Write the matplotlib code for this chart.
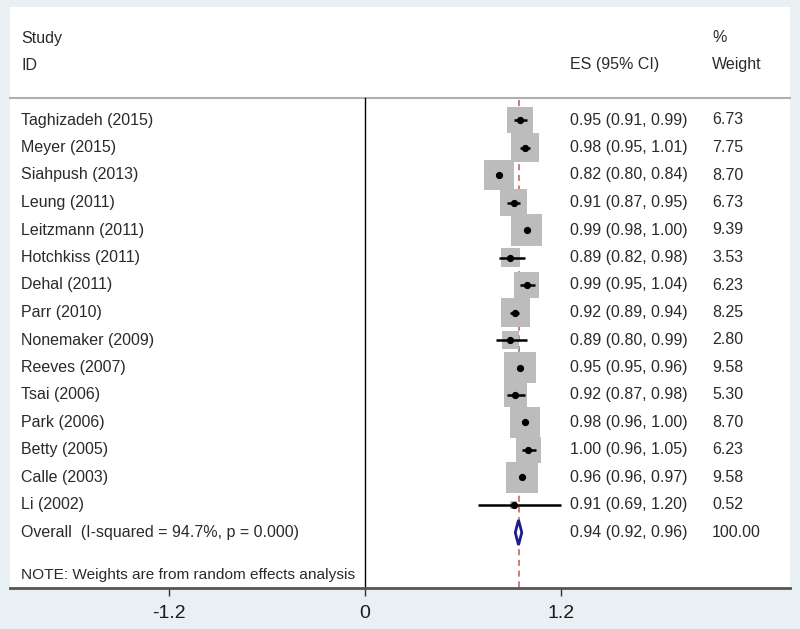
import matplotlib
matplotlib.use("Agg")
import matplotlib.pyplot as plt
from matplotlib.patches import Rectangle, Polygon
import numpy as np

plt.rcParams['font.family'] = ['Liberation Sans', 'DejaVu Sans']

studies = ["Taghizadeh (2015)", "Meyer (2015)", "Siahpush (2013)", "Leung (2011)",
           "Leitzmann (2011)", "Hotchkiss (2011)", "Dehal (2011)", "Parr (2010)",
           "Nonemaker (2009)", "Reeves (2007)", "Tsai (2006)", "Park (2006)",
           "Betty (2005)", "Calle (2003)", "Li (2002)"]
es = [0.95, 0.98, 0.82, 0.91, 0.99, 0.89, 0.99, 0.92, 0.89, 0.95, 0.92, 0.98, 1.00, 0.96, 0.91]
lo = [0.91, 0.95, 0.80, 0.87, 0.98, 0.82, 0.95, 0.89, 0.80, 0.95, 0.87, 0.96, 0.96, 0.96, 0.69]
hi = [0.99, 1.01, 0.84, 0.95, 1.00, 0.98, 1.04, 0.94, 0.99, 0.96, 0.98, 1.00, 1.05, 0.97, 1.20]
weights = [6.73, 7.75, 8.70, 6.73, 9.39, 3.53, 6.23, 8.25, 2.80, 9.58, 5.30, 8.70, 6.23, 9.58, 0.52]
overall_label = "Overall  (I-squared = 94.7%, p = 0.000)"
overall_es, overall_lo, overall_hi, overall_w = 0.94, 0.92, 0.96, 100.00
note = "NOTE: Weights are from random effects analysis"
xticks = [-1.2, 0, 1.2]
xticklabels = ["-1.2", "0", "1.2"]

W, H = 800, 629
fig = plt.figure(figsize=(W / 100, H / 100), dpi=100)
fig.patch.set_facecolor('#e9f0f3')

# axes covering the white panel (pixel coords)
left_px, right_px, top_px, bot_px = 10, 790, 7, 588
ax = fig.add_axes([left_px / W, 1 - bot_px / H, (right_px - left_px) / W, (bot_px - top_px) / H])
ax.set_facecolor('white')

x0_px, px_per_unit = 365.0, 163.33
row0_px, row_step = 120.0, 27.5
def xd(px):
    return (px - x0_px) / px_per_unit
def yd(py):
    return (py - row0_px) / row_step

ax.set_xlim(xd(left_px), xd(right_px))
ax.set_ylim(yd(bot_px), yd(top_px))

for s in ['top', 'right', 'left']:
    ax.spines[s].set_visible(False)
ax.spines['bottom'].set_color('#555555')
ax.spines['bottom'].set_linewidth(2)
ax.set_yticks([])
ax.set_xticks(xticks)
ax.set_xticklabels(xticklabels, fontsize=14, color='#1a1a1a')
ax.tick_params(axis='x', direction='out', length=6, width=1, color='#333333', pad=6)

txt_col = '#2a2a2a'
fs = 11.5

# header
ax.text(xd(21), yd(38), "Study", fontsize=fs, va='center', ha='left', color=txt_col)
ax.text(xd(21), yd(65), "ID", fontsize=fs, va='center', ha='left', color=txt_col)
ax.text(xd(712), yd(37), "%", fontsize=fs, va='center', ha='left', color=txt_col)
ax.text(xd(570), yd(65), "ES (95% CI)", fontsize=fs, va='center', ha='left', color=txt_col)
ax.text(xd(712), yd(65), "Weight", fontsize=fs, va='center', ha='left', color=txt_col)
ax.plot([xd(left_px), xd(right_px)], [yd(98), yd(98)], color='#b0b0b0', lw=1.5, clip_on=False)

# reference lines
ax.plot([0, 0], [yd(98), yd(bot_px)], color='black', lw=1.0)
ax.plot([overall_es, overall_es], [yd(100), yd(bot_px)], color='#c05858', lw=1.1,
        linestyle=(0, (4, 3)))

n = len(studies)
rows = np.arange(n)
for i in range(n):
    side_px = 10.2 * np.sqrt(weights[i])
    wd = side_px / px_per_unit
    hd = side_px / row_step
    ax.add_patch(Rectangle((es[i] - wd / 2, rows[i] - hd / 2), wd, hd,
                           facecolor='#bcbcbc', edgecolor='none', zorder=2))
    ax.plot([lo[i], hi[i]], [rows[i], rows[i]], color='black', lw=1.8, zorder=3,
            solid_capstyle='butt')
    ax.plot(es[i], rows[i], 'o', color='black', ms=4.2, zorder=4)
    ax.text(xd(21), rows[i], studies[i], fontsize=fs, va='center', ha='left', color=txt_col)
    ax.text(xd(570), rows[i], f"{es[i]:.2f} ({lo[i]:.2f}, {hi[i]:.2f})", fontsize=fs,
            va='center', ha='left', color=txt_col)
    ax.text(xd(712), rows[i], f"{weights[i]:.2f}", fontsize=fs, va='center', ha='left',
            color=txt_col)

# overall
yo = n
dh = 12.5 / row_step
ax.add_patch(Polygon([[overall_lo, yo], [overall_es, yo - dh], [overall_hi, yo], [overall_es, yo + dh]],
                     closed=True, facecolor='white', edgecolor='#1c1c8a', lw=2.0, zorder=4))
ax.text(xd(21), yo, overall_label, fontsize=fs, va='center', ha='left', color=txt_col)
ax.text(xd(570), yo, f"{overall_es:.2f} ({overall_lo:.2f}, {overall_hi:.2f})", fontsize=fs,
        va='center', ha='left', color=txt_col)
ax.text(xd(712), yo, f"{overall_w:.2f}", fontsize=fs, va='center', ha='left', color=txt_col)

ax.text(xd(21), yd(575), note, fontsize=11.1, va='center', ha='left', color=txt_col)

fig.savefig("out.png", dpi=100, facecolor=fig.get_facecolor())
